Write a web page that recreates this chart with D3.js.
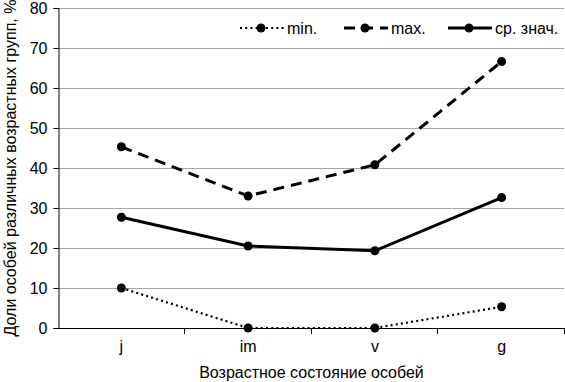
<!DOCTYPE html>
<html><head><meta charset="utf-8">
<script src="https://cdn.jsdelivr.net/npm/d3@7"></script>
<style>body{margin:0;background:#fff}svg{display:block}text{font-family:"Liberation Sans",Arial,sans-serif;fill:#000}</style>
</head><body>
<script>
const categories = ["j","im","v","g"];
const minValues = [10, 0, 0, 5.3];
const maxValues = [45.3, 33, 40.8, 66.6];
const meanValues = [27.7, 20.5, 19.3, 32.6];
const yTicks = [0,10,20,30,40,50,60,70,80];
const seriesNames = ["min.", "max.", "ср. знач."];

const W=565,H=382;
const m={left:58,right:0,top:8,bottom:54};
const svg=d3.select("body").append("svg").attr("width",W).attr("height",H);
const x=d3.scaleBand().domain(categories).range([m.left,W-m.right]);
const y=d3.scaleLinear().domain([0,80]).range([H-m.bottom,m.top]);

// gridlines
svg.append("g").selectAll("line").data(yTicks.filter(d=>d>0)).join("line")
  .attr("x1",m.left).attr("x2",W-1).attr("y1",d=>y(d)+0.5).attr("y2",d=>y(d)+0.5)
  .attr("stroke","#a6a6a6").attr("stroke-width",1.2);

// y axis
const ya=svg.append("g").attr("transform",`translate(${m.left+0.5},0)`)
  .call(d3.axisLeft(y).tickValues(yTicks).tickSize(5).tickPadding(6));
ya.selectAll("text").style("font-size","16px");
ya.select(".domain").attr("stroke","#000");
// x axis
const xa=svg.append("g").attr("transform",`translate(0,${y(0)+0.5})`)
  .call(d3.axisBottom(x).tickSize(0).tickPadding(12));
xa.selectAll("text").style("font-size","16px");
xa.select(".domain").attr("stroke","#000").attr("d",`M${m.left},0H${W}`);
const bounds=categories.map((c,i)=>x(c)+x.bandwidth());
svg.append("g").selectAll("line").data(bounds).join("line")
  .attr("x1",d=>Math.round(d)-0.5).attr("x2",d=>Math.round(d)-0.5)
  .attr("y1",y(0)).attr("y2",y(0)+6).attr("stroke","#000");

const series=[
  {name:seriesNames[0],vals:minValues,dash:"2,3.2",w:2.2},
  {name:seriesNames[1],vals:maxValues,dash:"11,7",w:3},
  {name:seriesNames[2],vals:meanValues,dash:null,w:3}
];
const line=d3.line().x((d,i)=>x(categories[i])+x.bandwidth()/2).y(d=>y(d));
series.forEach(s=>{
  svg.append("path").attr("d",line(s.vals)).attr("fill","none").attr("stroke","#000")
    .attr("stroke-width",s.w).attr("stroke-dasharray",s.dash);
  svg.append("g").selectAll("circle").data(s.vals).join("circle")
    .attr("cx",(d,i)=>x(categories[i])+x.bandwidth()/2).attr("cy",d=>y(d)).attr("r",4.5).attr("fill","#000");
});

// legend
const legX=[240,344,448];
series.forEach((s,i)=>{
  const g=svg.append("g").attr("transform",`translate(${legX[i]},28)`);
  g.append("line").attr("x1",0).attr("x2",44).attr("y1",0).attr("y2",0)
    .attr("stroke","#000").attr("stroke-width",s.w).attr("stroke-dasharray",s.dash);
  g.append("circle").attr("cx",21).attr("cy",0).attr("r",4.5).attr("fill","#000");
  g.append("text").attr("x",47).attr("y",6).style("font-size","16px").text(s.name);
});

svg.append("text").attr("x",(m.left+W)/2).attr("y",378).attr("text-anchor","middle")
  .style("font-size","16px").text("Возрастное состояние особей");
svg.append("text").attr("transform",`translate(16,${(y(0)+y(80))/2}) rotate(-90)`)
  .attr("text-anchor","middle").style("font-size","16px").text("Доли особей различных возрастных групп, %");
</script>
</body></html>
